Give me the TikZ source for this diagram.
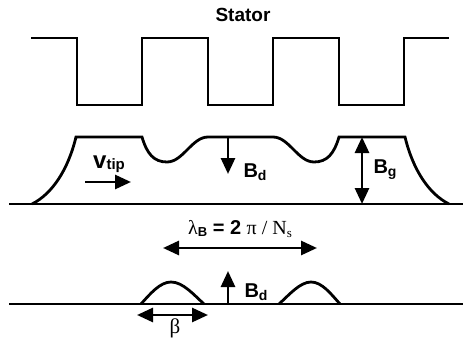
\documentclass[tikz,border=0pt]{standalone}
\usepackage{fontspec}
\setmainfont{Liberation Sans}
\newfontfamily\serif{Liberation Serif}
\usetikzlibrary{arrows.meta}
\newcommand{\fs}[1]{\fontsize{#1}{#1}\selectfont}
\newcommand{\blbl}[2]{{\fs{20}\bfseries #1\raisebox{-0.3ex}{\fs{14}#2}}}
\begin{document}
\begin{tikzpicture}[x=1pt,y=-1pt,
  wave/.style={line width=2.8pt,line join=miter},
  arr/.style={line width=2.8pt,-{Triangle[length=16pt,width=14pt]}},
  darr/.style={line width=2.8pt,{Triangle[length=16pt,width=14pt]}-{Triangle[length=16pt,width=14pt]}},
  lbl/.style={inner sep=0pt,anchor=center}]
\useasboundingbox (0,0) rectangle (468,337);
% stator label
\node[lbl] (stator) at (243,15) {\fs{19}\bfseries Stator};
% stator teeth
\draw[wave] (31,38) -- (77,38) -- (77,105) -- (142,105) -- (142,38) -- (208,38) -- (208,105)
  -- (273,105) -- (273,38) -- (339,38) -- (339,105) -- (404,105) -- (404,38) -- (449,38);
% middle: gap field
\draw[wave] (9,204) -- (463,204);
\draw[wave] (32,204) .. controls (52,194) and (68,170) .. (76,137) -- (142,137)
  .. controls (147,154) and (154,162) .. (167,162)
  .. controls (183,162) and (192,137) .. (208,137) -- (273,137)
  .. controls (289,137) and (298,162) .. (314,162)
  .. controls (327,162) and (334,154) .. (339,137) -- (405,137)
  .. controls (413,170) and (429,194) .. (449,204);
\coordinate (bdtop) at (228,137);
\coordinate (bdend) at (228,174);
\draw[arr] (bdtop) -- (bdend);
\node[lbl] (bd1) at (255,172) {\blbl{B}{d}};
\coordinate (bgtop) at (362,137);
\coordinate (bgbot) at (362,204);
\draw[darr] (bgtop) -- (bgbot);
\node[lbl] (bg) at (385,170) {\blbl{B}{g}};
\node[lbl] (vtip) at (109,164) {{\fs{24}\bfseries v}\raisebox{-0.25ex}{\fs{15}\bfseries tip}};
\coordinate (va) at (85,182);
\coordinate (vb) at (131,182);
\draw[arr] (va) -- (vb);
% wavelength
\node[lbl] (lam) at (240,229) {{\serif\fs{20}λ}\raisebox{-0.3ex}{\fs{13}\bfseries B}{\fs{20}\bfseries\ = 2 }{\serif\fs{20}π / N\raisebox{-0.3ex}{\fs{13}s}}};
\coordinate (la) at (163,248);
\coordinate (lb) at (317,248);
\draw[darr] (la) -- (lb);
% bottom: difference field
\draw[wave] (9,304) -- (463,304);
\draw[wave] (141,304) .. controls (150,294) and (160,282) .. (171,282)
  .. controls (183,282) and (194,295) .. (204,304);
\draw[wave] (279,304) .. controls (289,295) and (300,282) .. (311,282)
  .. controls (322,282) and (331,294) .. (340,304);
\coordinate (bda) at (228,304);
\coordinate (bdb) at (228,271);
\draw[arr] (bda) -- (bdb);
\node[lbl] (bd2) at (256,292) {\blbl{B}{d}};
\coordinate (ba) at (137,315);
\coordinate (bb) at (208,315);
\draw[darr] (ba) -- (bb);
\node[lbl] (beta) at (175,328) {\serif\fs{21}β};
\end{tikzpicture}
\end{document}
